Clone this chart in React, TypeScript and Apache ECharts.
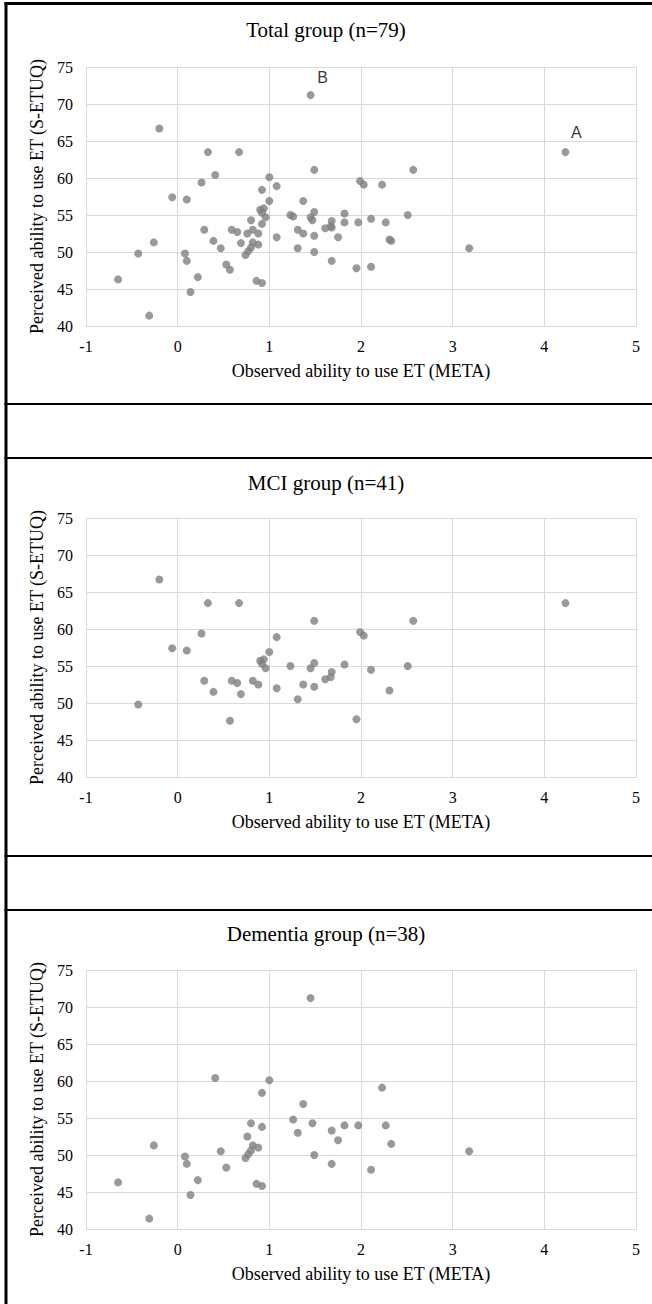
import React, { useEffect, useRef } from "react";
import * as echarts from "echarts";

// ---------- data ----------
const panelTitles = ["Total group (n=79)", "MCI group (n=41)", "Dementia group (n=38)"];
const xAxisTitle = "Observed ability to use ET (META)";
const yAxisTitle = "Perceived ability to use ET (S-ETUQ)";
const xMin = -1;
const xMax = 5;
const xStep = 1;
const yMin = 40;
const yMax = 75;
const yStep = 5;

// [META, S-ETUQ]
const mciPoints: number[][] = [
  [-0.2, 66.7], [0.33, 63.5], [0.67, 63.5], [1.49, 61.1], [0.26, 59.4], [1.08, 58.9],
  [-0.06, 57.4], [0.1, 57.1], [1.0, 56.9], [0.9, 55.7], [0.94, 55.9], [0.92, 55.3],
  [0.96, 54.7], [1.23, 55.0], [1.45, 54.7], [1.49, 55.4], [1.82, 55.2], [1.68, 54.2],
  [1.67, 53.5], [1.61, 53.2], [0.29, 53.0], [0.59, 53.0], [0.65, 52.7], [0.82, 53.0],
  [0.88, 52.5], [1.37, 52.5], [1.49, 52.2], [1.08, 52.0], [0.39, 51.5], [0.69, 51.2],
  [1.31, 50.5], [-0.43, 49.8], [0.57, 47.6], [1.95, 47.8], [1.99, 59.6], [2.03, 59.1],
  [2.57, 61.1], [2.11, 54.5], [2.51, 55.0], [2.31, 51.7], [4.23, 63.5],
];

const dementiaPoints: number[][] = [
  [1.45, 71.2], [0.41, 60.4], [1.0, 60.1], [0.92, 58.4], [1.37, 56.9], [1.26, 54.8],
  [0.8, 54.3], [1.47, 54.3], [0.92, 53.8], [1.82, 54.0], [1.97, 54.0], [1.31, 53.0],
  [1.68, 53.3], [1.75, 52.0], [0.76, 52.5], [-0.26, 51.3], [0.82, 51.3], [0.88, 51.0],
  [0.47, 50.5], [0.8, 50.6], [0.77, 50.1], [0.74, 49.6], [0.08, 49.8], [0.1, 48.8],
  [0.53, 48.3], [-0.65, 46.3], [0.22, 46.6], [0.14, 44.6], [-0.31, 41.4], [0.86, 46.1],
  [0.92, 45.8], [1.49, 50.0], [1.68, 48.8], [2.11, 48.0], [3.18, 50.5], [2.23, 59.1],
  [2.27, 54.0], [2.33, 51.5],
];

const totalPoints: number[][] = [...mciPoints, ...dementiaPoints];

// outliers marked in the total panel: index into totalPoints
const outlierMarks = [
  { text: "A", index: 40 },
  { text: "B", index: mciPoints.length + 0 },
];

// ---------- layout ----------
const W = 652;
const H = 1304;
const GRID_LEFT = 86;
const GRID_WIDTH = 550;
const GRID_HEIGHT = 259;
const GRID_TOPS = [67, 518, 970];
const TITLE_TOPS = [19, 472, 923];
const SEPARATORS = [403, 457, 855, 909];

const serif = "'Liberation Serif', 'Times New Roman', serif";
const pointColor = "#7f7f7f";
const gridColor = "#d9d9d9";

export default function App() {
  const ref = useRef<HTMLDivElement | null>(null);

  useEffect(() => {
    document.body.style.margin = "0";
    if (!ref.current) return;
    const chart = echarts.init(ref.current, undefined, { renderer: "svg" });

    const panelData = [totalPoints, mciPoints, dementiaPoints];

    const grids = GRID_TOPS.map((top) => ({
      left: GRID_LEFT,
      top,
      width: GRID_WIDTH,
      height: GRID_HEIGHT,
      containLabel: false,
    }));

    const xAxes = GRID_TOPS.map((_, i) => ({
      type: "value",
      gridIndex: i,
      min: xMin,
      max: xMax,
      interval: xStep,
      name: xAxisTitle,
      nameLocation: "middle",
      nameGap: 36,
      nameTextStyle: { fontFamily: serif, fontSize: 18, color: "#000" },
      axisLine: { show: true, lineStyle: { color: gridColor, width: 1 } },
      axisTick: { show: false },
      axisLabel: { fontFamily: serif, fontSize: 16, color: "#000", margin: 12 },
      splitLine: { show: true, lineStyle: { color: gridColor, width: 1 } },
    }));

    const yAxes = GRID_TOPS.map((_, i) => ({
      type: "value",
      gridIndex: i,
      min: yMin,
      max: yMax,
      interval: yStep,
      name: yAxisTitle,
      nameLocation: "middle",
      nameGap: 37,
      nameRotate: 90,
      nameTextStyle: { fontFamily: serif, fontSize: 18, color: "#000" },
      axisLine: { show: true, lineStyle: { color: gridColor, width: 1 } },
      axisTick: { show: false },
      axisLabel: { fontFamily: serif, fontSize: 16, color: "#000", margin: 13 },
      splitLine: { show: true, lineStyle: { color: gridColor, width: 1 } },
    }));

    const labelOffsets: Record<string, number[]> = { A: [11, -3], B: [12, -1] };

    const series = panelData.map((pts, i) => ({
      type: "scatter",
      xAxisIndex: i,
      yAxisIndex: i,
      symbol: "circle",
      symbolSize: 8,
      itemStyle: { color: pointColor },
      data: pts.map((p, j) => {
        const mark = i === 0 ? outlierMarks.find((m) => m.index === j) : undefined;
        if (!mark) return p;
        return {
          value: p,
          label: {
            show: true,
            formatter: mark.text,
            position: "top",
            offset: labelOffsets[mark.text],
            fontFamily: "'Liberation Sans', Arial, sans-serif",
            fontSize: 16,
            color: "#000",
          },
        };
      }),
    }));

    const titles = panelTitles.map((t, i) => ({
      text: t,
      left: "center",
      top: TITLE_TOPS[i],
      padding: 0,
      textStyle: { fontFamily: serif, fontSize: 21, fontWeight: "normal", color: "#000" },
    }));

    const graphic = [
      { type: "rect", shape: { x: 4.5, y: 2, width: 3, height: H - 2 }, style: { fill: "#000" } },
      { type: "rect", shape: { x: 4.5, y: 2, width: W - 4.5, height: 3 }, style: { fill: "#000" } },
      ...SEPARATORS.map((y) => ({
        type: "rect",
        shape: { x: 4.5, y, width: W - 4.5, height: 2 },
        style: { fill: "#000" },
      })),
    ];

    chart.setOption({
      animation: false,
      backgroundColor: "#fff",
      title: titles,
      grid: grids,
      xAxis: xAxes,
      yAxis: yAxes,
      series,
      graphic,
    });

    return () => chart.dispose();
  }, []);

  return <div ref={ref} style={{ width: W, height: H }} />;
}
